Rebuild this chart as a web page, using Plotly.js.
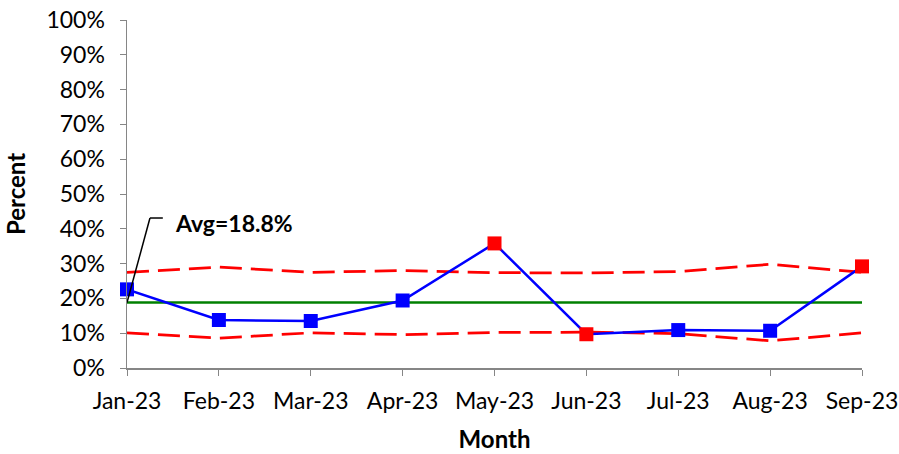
<!DOCTYPE html>
<html><head><meta charset="utf-8">
<script src="https://cdn.plot.ly/plotly-3.0.1.min.js"></script>
<style>html,body{margin:0;padding:0;background:#fff}</style>
</head><body>
<div id="chart" style="width:899px;height:454px"></div>
<script>
const months = ["Jan-23","Feb-23","Mar-23","Apr-23","May-23","Jun-23","Jul-23","Aug-23","Sep-23"];
const percent = [22.6, 13.8, 13.5, 19.4, 35.8, 9.7, 10.9, 10.7, 29.2];
const average = 18.8;
const ucl = [27.5, 29.0, 27.5, 28.0, 27.4, 27.3, 27.7, 29.8, 27.5];
const lcl = [10.1, 8.6, 10.1, 9.6, 10.2, 10.3, 9.9, 7.8, 10.1];
const yTicks = [0,10,20,30,40,50,60,70,80,90,100];

const xi = months.map((m,i)=>i);
const colors = percent.map((v,i)=> (v>ucl[i]||v<lcl[i]) ? "#ff0000" : "#0000ff");
const font = "Lato, 'Open Sans', sans-serif";

const traces = [
  {x:xi, y:ucl, mode:"lines", line:{color:"#ff0000", width:2.75, dash:"22px,9px"}, cliponaxis:false, hoverinfo:"skip"},
  {x:xi, y:lcl, mode:"lines", line:{color:"#ff0000", width:2.75, dash:"22px,9px"}, cliponaxis:false, hoverinfo:"skip"},
  {x:xi, y:months.map(()=>average), mode:"lines", line:{color:"#008000", width:2.5}, cliponaxis:false},
  {x:xi, y:percent, mode:"lines+markers", line:{color:"#0000ff", width:2.5},
   marker:{symbol:"square", size:14, color:colors}, cliponaxis:false}
];

const layout = {
  width:899, height:454,
  margin:{l:127, r:37, t:20, b:86},
  showlegend:false,
  paper_bgcolor:"#fff", plot_bgcolor:"#fff",
  font:{family:font, size:23, color:"#000"},
  xaxis:{range:[0,8], tickvals:xi, ticktext:months, showgrid:false, zeroline:false,
    showline:true, linecolor:"#868686", linewidth:1.5, ticks:"outside", ticklen:6, tickcolor:"#868686",
    ticklabelstandoff:6,
    tickfont:{size:23}, title:{text:"<b>Month</b>", font:{size:24}, standoff:18}},
  yaxis:{range:[0,100], tickvals:yTicks, ticktext:yTicks.map(v=>v+"%"), showgrid:false, zeroline:false,
    showline:true, linecolor:"#868686", linewidth:1.5, ticks:"outside", ticklen:6, tickcolor:"#868686",
    ticklabelstandoff:10,
    tickfont:{size:23}, title:{text:"<b>Percent</b>", font:{size:24}, standoff:14}},
  shapes:[
    {type:"line", xref:"x", yref:"y", x0:0, y0:average, x1:0.25, y1:43.1, line:{color:"#000", width:1.5}},
    {type:"line", xref:"x", yref:"y", x0:0.25, y0:43.1, x1:0.39, y1:43.1, line:{color:"#000", width:1.5}}
  ],
  annotations:[
    {xref:"x", yref:"y", x:0.5, y:41.6, xanchor:"left", yanchor:"middle", showarrow:false,
     text:"<b>Avg=18.8%</b>", font:{size:23, family:font}}
  ]
};
Plotly.newPlot("chart", traces, layout, {displayModeBar:false, staticPlot:true});
</script>
</body></html>
